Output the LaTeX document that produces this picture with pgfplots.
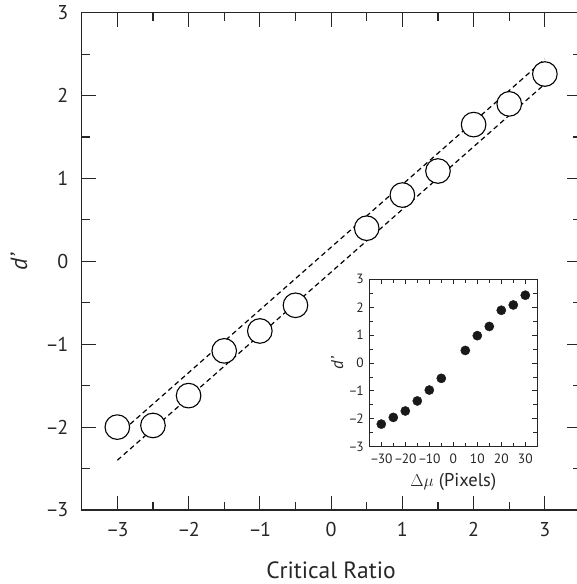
\documentclass[border=0pt]{standalone}
\usepackage{fontspec}
\setmainfont{PT Sans}
\usepackage{pgfplots}
\pgfplotsset{compat=1.18}
\newcommand{\mn}{–\kern-0.08em}

\begin{document}
\begin{tikzpicture}
% main panel: d' against critical ratio
\begin{axis}[
  name=main,
  scale only axis,
  width=498.8pt, height=497.3pt,
  xmin=-3.5, xmax=3.5, ymin=-3, ymax=3,
  xtick={-3,-2,-1,0,1,2,3},
  xticklabels={\mn3,\mn2,\mn1,0,1,2,3},
  ytick={-3,-2,-1,0,1,2,3},
  yticklabels={\mn3,\mn2,\mn1,0,1,2,3},
  minor xtick={-2.5,-1.5,-0.5,0.5,1.5,2.5},
  minor ytick={-2.5,-1.5,-0.5,0.5,1.5,2.5},
  tick align=inside,
  major tick length=14pt, minor tick length=8pt,
  every tick/.style={black!85, line width=1.1pt},
  axis line style={black!85, line width=1.2pt},
  ticklabel style={font=\fontsize{20}{22}\selectfont, text=black!85},
  xticklabel style={yshift=-8.5pt},
  yticklabel style={xshift=-10pt},
  xlabel={Critical Ratio},
  ylabel={\textit{d’}},
  every axis x label/.style={at={([yshift=-60pt]axis description cs:0.5,0)}, anchor=center,
    font=\fontsize{23.5}{26}\selectfont, text=black!85},
  every axis y label/.style={at={([xshift=-62.7pt]axis description cs:0,0.5)}, anchor=center, rotate=90,
    font=\fontsize{23.5}{26}\selectfont, text=black!85},
  clip=false
]
\addplot[black, line width=1.2pt, dash pattern=on 5pt off 3.5pt] coordinates {(-3,-2.10) (3,2.44)};
\addplot[black, line width=1.2pt, dash pattern=on 5pt off 3.5pt] coordinates {(-3,-2.40) (3,2.14)};
\addplot[only marks, mark=*, mark size=12.3pt,
  mark options={draw=black, fill=white, line width=1.1pt}] coordinates {
  (-3,-2.00) (-2.5,-1.98) (-2,-1.62) (-1.5,-1.08) (-1,-0.84) (-0.5,-0.53)
  (0.5,0.40) (1,0.80) (1.5,1.09) (2,1.65) (2.5,1.90) (3,2.26)};
\end{axis}

% inset: d' against delta mu in pixels
\begin{axis}[
  at={(287.6pt,63.3pt)}, anchor=south west,
  scale only axis,
  width=168pt, height=167.4pt,
  xmin=-35, xmax=35, ymin=-3, ymax=3,
  axis background/.style={fill=white},
  xtick={-30,-20,-10,0,10,20,30},
  xticklabels={\mn30,\mn20,\mn10,0,10,20,30},
  ytick={-3,-2,-1,0,1,2,3},
  yticklabels={\mn3,\mn2,\mn1,0,1,2,3},
  minor xtick={-25,-15,-5,5,15,25},
  minor ytick={-2.5,-1.5,-0.5,0.5,1.5,2.5},
  tick align=inside,
  major tick length=5pt, minor tick length=4pt,
  every tick/.style={black!85, line width=0.9pt},
  axis line style={black!85, line width=1.1pt},
  ticklabel style={font=\fontsize{13.5}{15}\selectfont, text=black!85},
  xticklabel style={yshift=-4pt},
  yticklabel style={xshift=-2pt},
  xlabel={$\Delta\mu$ (Pixels)},
  ylabel={\textit{d’}},
  every axis x label/.style={at={([yshift=-35pt]axis description cs:0.5,0)}, anchor=center,
    font=\fontsize{18.5}{20}\selectfont, text=black!85},
  every axis y label/.style={at={([xshift=-32pt]axis description cs:0,0.5)}, anchor=center, rotate=90,
    font=\fontsize{17}{19}\selectfont, text=black!85},
  clip=false
]
\addplot[only marks, mark=*, mark size=4.6pt, mark options={draw=black!90, fill=black!90}] coordinates {
  (-30,-2.19) (-25,-1.95) (-20,-1.72) (-15,-1.36) (-10,-0.97) (-5,-0.55)
  (5,0.45) (10,0.98) (15,1.31) (20,1.89) (25,2.08) (30,2.43)};
\end{axis}

\pgfresetboundingbox
\path[use as bounding box] (-81.7pt,-74pt) rectangle (494.3pt,510pt);
\end{tikzpicture}
\end{document}
